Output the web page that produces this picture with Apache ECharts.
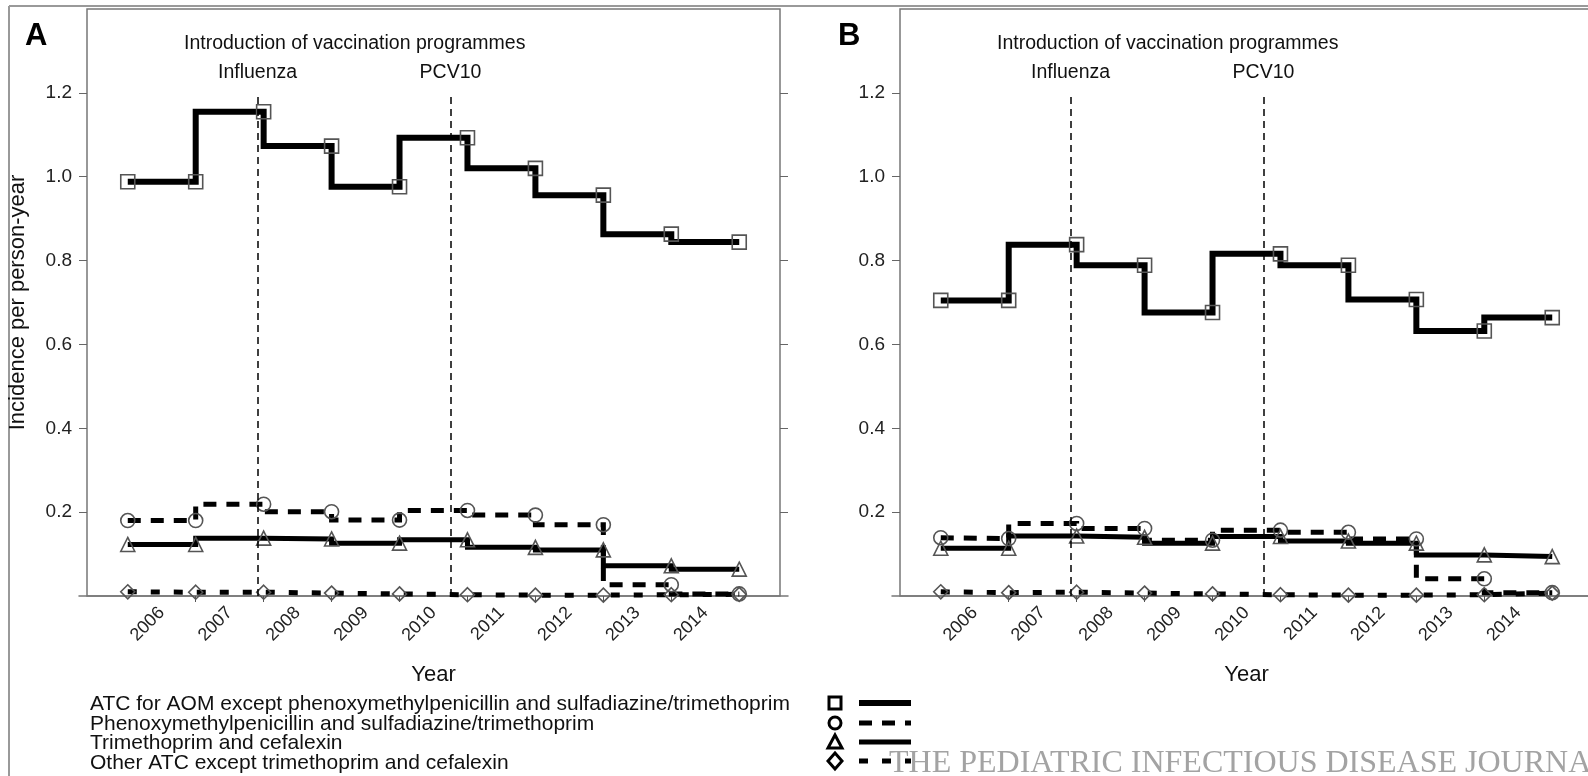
<!DOCTYPE html>
<html>
<head>
<meta charset="utf-8">
<title>Incidence per person-year</title>
<script src="https://cdn.jsdelivr.net/npm/echarts@6/dist/echarts.min.js"></script>
<style>
  html, body { margin: 0; padding: 0; background: #fff; }
  #chart { width: 1588px; height: 776px; }
</style>
</head>
<body>
<div id="chart"></div>
<script>
// x positions are period edges (start of each year), year labels sit between them
const yearLabels = ['2006', '2007', '2008', '2009', '2010', '2011', '2012', '2013', '2014'];
const periodEdges = [0, 1, 2, 3, 4, 5, 6, 7, 8, 9];
const labelPositions = [0.5, 1.5, 2.5, 3.5, 4.5, 5.5, 6.5, 7.5, 8.5];
const edgeTicks = [1, 2, 3, 4, 5, 6, 7, 8];
const yTicks = [0.2, 0.4, 0.6, 0.8, 1.0, 1.2];

const seriesNames = [
  'ATC for AOM except phenoxymethylpenicillin and sulfadiazine/trimethoprim',
  'Phenoxymethylpenicillin and sulfadiazine/trimethoprim',
  'Trimethoprim and cefalexin',
  'Other ATC except trimethoprim and cefalexin'
];

// panel A
const aomA    = [0.988, 0.988, 1.155, 1.073, 0.976, 1.093, 1.020, 0.956, 0.863, 0.844];
const pencilA = [0.180, 0.180, 0.219, 0.201, 0.181, 0.204, 0.193, 0.170, 0.027, 0.005];
const trimA   = [0.123, 0.123, 0.138, 0.136, 0.126, 0.134, 0.116, 0.110, 0.072, 0.064];
const otherA  = [0.010, 0.009, 0.009, 0.007, 0.005, 0.003, 0.002, 0.002, 0.003, 0.004];

// panel B
const aomB    = [0.705, 0.705, 0.838, 0.789, 0.676, 0.816, 0.789, 0.707, 0.632, 0.664];
const pencilB = [0.139, 0.137, 0.173, 0.161, 0.133, 0.157, 0.152, 0.136, 0.041, 0.008];
const trimB   = [0.114, 0.114, 0.143, 0.140, 0.126, 0.142, 0.131, 0.126, 0.098, 0.094];
const otherB  = [0.010, 0.008, 0.009, 0.007, 0.005, 0.003, 0.002, 0.002, 0.003, 0.007];

// vaccination programme start, in period units
const vaccinations = [
  { name: 'Influenza', x: 1.91 },
  { name: 'PCV10', x: 4.75 }
];
const vaccLineTop = 1.19;

const FONT = "'Liberation Sans', Arial, sans-serif";
const plotTop = 9, plotWidth = 693, plotHeight = 587;

const panels = [
  { left: 87, letter: 'A', values: [aomA, pencilA, trimA, otherA], yName: 'Incidence per person-year' },
  { left: 900, letter: 'B', values: [aomB, pencilB, trimB, otherB], yName: '' }
];

const lineStyles = [
  { symbol: 'rect', width: 6, type: 'solid' },
  { symbol: 'circle', width: 5, type: [13, 10] },
  { symbol: 'triangle', width: 5, type: 'solid' },
  { symbol: 'diamond', width: 5, type: [9, 14] }
];

const grid = [], xAxis = [], yAxis = [], series = [], title = [];

panels.forEach((p, i) => {
  grid.push({
    left: p.left, top: plotTop, width: plotWidth, height: plotHeight,
    show: true, borderColor: '#777', borderWidth: 1.5, outerBoundsMode: 'none'
  });
  xAxis.push({
    type: 'value', gridIndex: i, min: -0.6, max: 9.6,
    axisLine: { show: false, onZero: false },
    splitLine: { show: false },
    axisTick: { show: true, customValues: edgeTicks, length: 6, lineStyle: { color: '#555', width: 1 } },
    axisLabel: {
      customValues: labelPositions, rotate: 45, margin: 14,
      fontSize: 18, color: '#222', fontFamily: FONT,
      formatter: v => yearLabels[labelPositions.indexOf(v)]
    },
    name: 'Year', nameLocation: 'middle', nameGap: 68,
    nameTextStyle: { fontSize: 22, color: '#111', fontFamily: FONT }
  });
  // left axis with labels
  yAxis.push({
    type: 'value', gridIndex: i, min: 0, max: 1.4, position: 'left',
    axisLine: { show: false, onZero: false },
    splitLine: { show: false },
    axisTick: { show: true, customValues: yTicks, length: 8, lineStyle: { color: '#666' } },
    axisLabel: {
      customValues: yTicks, margin: 15, fontSize: 19, color: '#222', fontFamily: FONT,
      formatter: v => v.toFixed(1)
    },
    name: p.yName, nameLocation: 'middle', nameGap: 58,
    nameTextStyle: { fontSize: 22, color: '#111', fontFamily: FONT }
  });

  p.values.forEach((vals, k) => {
    const st = lineStyles[k];
    const s = {
      type: 'line', name: seriesNames[k], xAxisIndex: i, yAxisIndex: i,
      step: 'start', clip: false, animation: false,
      data: periodEdges.map((x, j) => [x, vals[j]]),
      symbol: st.symbol, symbolSize: 14,
      itemStyle: { color: 'rgba(0,0,0,0)', borderColor: '#555', borderWidth: 1.6 },
      lineStyle: { color: '#000', width: st.width, type: st.type, cap: 'butt', join: 'miter' },
      emphasis: { disabled: true }
    };
    if (k === 0) {
      s.markLine = {
        silent: true, symbol: ['none', 'none'], animation: false,
        lineStyle: { color: '#000', type: [7, 5], width: 1.5 },
        label: { show: true, position: 'end', distance: 14, formatter: '{b}', fontSize: 19.5, color: '#111', fontFamily: FONT },
        data: vaccinations.map(v => [{ name: v.name, coord: [v.x, 0] }, { coord: [v.x, vaccLineTop] }])
      };
    }
    series.push(s);
  });

  title.push({
    text: p.letter, left: p.left - 67, top: 16,
    textStyle: { fontSize: 31, fontWeight: 'bold', color: '#000', fontFamily: FONT }
  });
  title.push({
    text: 'Introduction of vaccination programmes', left: p.left + 92, top: 29,
    textStyle: { fontSize: 19.5, fontWeight: 'normal', color: '#111', fontFamily: FONT }
  });
});

// right-hand tick marks of each box
panels.forEach((p, i) => {
  yAxis.push({
    type: 'value', gridIndex: i, min: 0, max: 1.4, position: 'right',
    axisLine: { show: false, onZero: false }, splitLine: { show: false },
    axisTick: { show: true, customValues: yTicks, length: 8, lineStyle: { color: '#666' } },
    axisLabel: { show: false }
  });
});

// zero line runs a little past each box
panels.forEach((p, i) => {
  grid.push({ left: p.left - 8, top: plotTop, width: plotWidth + 16, height: plotHeight, outerBoundsMode: 'none' });
  xAxis.push({
    type: 'value', gridIndex: 2 + i, min: 0, max: 1,
    axisLine: { show: true, onZero: false, lineStyle: { color: '#777', width: 1.5 } },
    axisTick: { show: false }, axisLabel: { show: false }, splitLine: { show: false }
  });
  yAxis.push({ type: 'value', gridIndex: 2 + i, min: 0, max: 1.4, show: false });
});

title.push({
  text: 'THE PEDIATRIC INFECTIOUS DISEASE JOURNAL', left: 884, top: 743,
  textStyle: { fontSize: 32, fontWeight: 'normal', color: '#a3a3a3', fontFamily: "'Liberation Serif', 'Times New Roman', serif" }
});

// legend keys: symbol column and line samples
const keyX = 835, keyLineX1 = 859, keyLineX2 = 911;
const keyRows = [703, 723, 742, 761];
const keyStroke = { fill: 'none', stroke: '#000', lineWidth: 3 };
const graphic = [
  { type: 'line', shape: { x1: 9, y1: 6, x2: 1588, y2: 6 }, style: { stroke: '#999', lineWidth: 2 } },
  { type: 'line', shape: { x1: 9, y1: 6, x2: 9, y2: 776 }, style: { stroke: '#999', lineWidth: 2 } },
  { type: 'rect', shape: { x: keyX - 6, y: keyRows[0] - 6, width: 12, height: 12 }, style: keyStroke },
  { type: 'circle', shape: { cx: keyX, cy: keyRows[1], r: 6 }, style: keyStroke },
  { type: 'polygon', shape: { points: [[keyX, keyRows[2] - 7], [keyX + 7, keyRows[2] + 6], [keyX - 7, keyRows[2] + 6]] }, style: keyStroke },
  { type: 'polygon', shape: { points: [[keyX, keyRows[3] - 8], [keyX + 7, keyRows[3]], [keyX, keyRows[3] + 8], [keyX - 7, keyRows[3]]] }, style: keyStroke }
];
keyRows.forEach((y, k) => {
  const st = lineStyles[k];
  graphic.push({
    type: 'line', shape: { x1: keyLineX1, y1: y, x2: keyLineX2, y2: y },
    style: { stroke: '#000', lineWidth: st.width, lineCap: 'butt', lineDash: st.type === 'solid' ? null : st.type }
  });
});

const chart = echarts.init(document.getElementById('chart'));
chart.setOption({
  backgroundColor: '#fff',
  animation: false,
  title: title,
  grid: grid,
  xAxis: xAxis,
  yAxis: yAxis,
  legend: {
    left: 84, top: 694, height: 140, orient: 'vertical', itemGap: -1.5, itemWidth: 1, itemHeight: 12, padding: 0,
    icon: 'none', selectedMode: false, data: seriesNames,
    textStyle: { fontSize: 21, lineHeight: 19.3, color: '#111', fontFamily: FONT }
  },
  graphic: graphic,
  series: series
});
</script>
</body>
</html>
